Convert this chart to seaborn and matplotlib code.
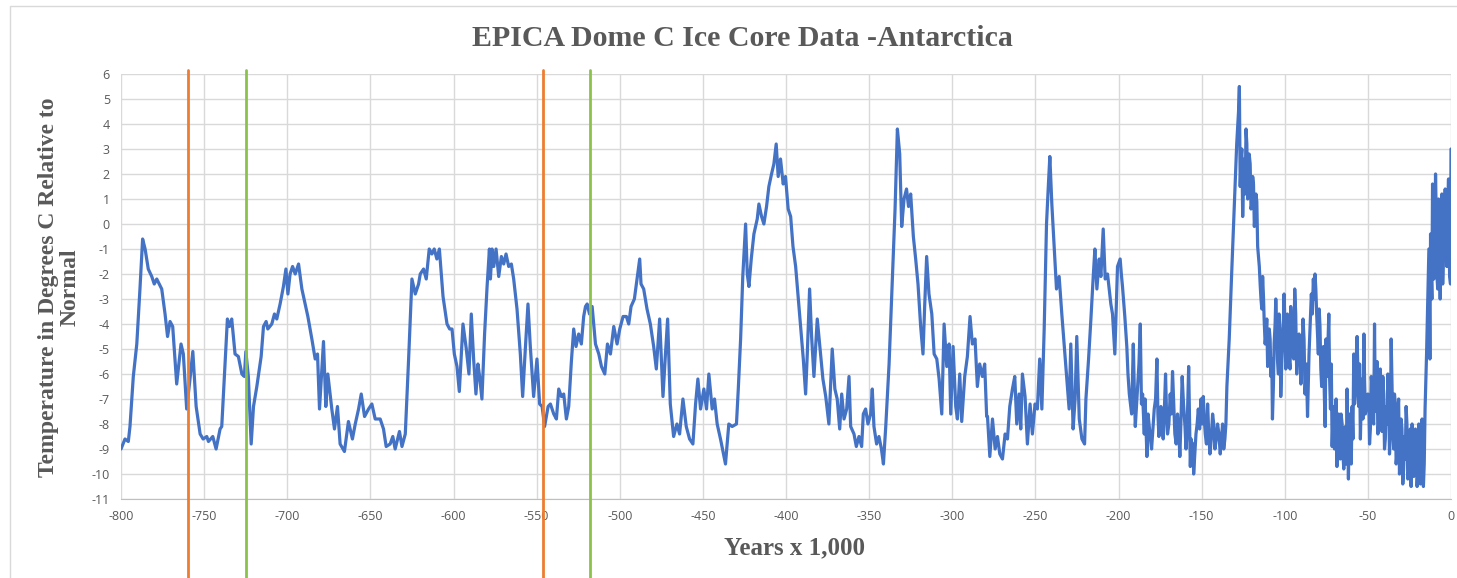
import numpy as np
import pandas as pd
import seaborn as sns
import matplotlib.pyplot as plt
from matplotlib.patches import Rectangle

# ============================
#  data
# ============================

years = [
    -800, -797.6, -795.6, -794.6, -792.6, -790.5, -788.6, -787, -785.5, -783.6,
    -781.5, -780, -778.5, -775.5, -773.5, -772, -770.5, -768.9, -766.5, -763.9,
    -762.5, -760.5, -758.5, -756.8, -754.8, -752.4, -750.6, -748.4, -747.4, -744.8,
    -742.8, -740.4, -739.4, -737.4, -736, -734.8, -733.4, -731.4, -729.4,
    -727.3, -725.8, -724.9, -723.4, -721.7, -720.3, -718.3, -715.7, -714.3, -712.7,
    -711.7, -709.3, -707.7, -706.3, -704.3, -702.3, -700.8, -699.6, -698.3, -696.8,
    -695.2, -693.2, -691.2, -689.2, -687.6, -685.2, -683.2, -681.8, -680.6, -678.2,
    -676.8, -675.6, -673.2, -671.6, -669.8, -668.2, -665.6, -663.2, -660.8, -659.1,
    -657.1, -655.5, -653.5,
    -651.1, -649.1, -647.1, -644.1, -642.1, -640.5, -638.1, -636.5, -635.1, -632.5,
    -631, -629, -627, -625, -623, -621, -620, -618, -616.4, -614.6,
    -613, -611.6, -610, -608.5, -606.3, -603.9, -602.3, -600.9, -599.5, -597.9,
    -596.5, -594.3, -592.3, -590.7, -589.3, -587.9, -586.5, -585.3, -584.3, -582.9,
    -581.3, -579.8, -578.4,
    -577.8, -576.8, -575.8, -574.4, -572.8, -571.2, -569.8, -568.4, -566.8, -565.2,
    -563.8, -561.8, -559.8, -558.4, -556.8, -555.2, -553.8, -551.8, -549.8, -548.2,
    -546.7, -545.2, -543.1, -541.7, -539.7, -538.1, -536.7, -535.1, -533.7, -532.1,
    -530.7, -529.1, -527.7, -526.3, -524.7, -523.1, -521.7, -520.6, -519.6, -518.2,
    -516.6, -514.6, -512.6, -511, -509, -507.4, -505.6, -503.6,
    -501.6, -500, -498, -496, -494.6, -493.2, -491.2, -489.6, -488, -487.2,
    -485.6, -483.6, -481.6, -479.6, -478, -476, -474, -472.6, -471.2, -469.6,
    -467.6, -465.6, -464, -462, -460, -458, -456, -454.4, -453, -451.4,
    -449.4, -447.8, -446.4, -444.4, -443, -441.4, -439.4, -436.4, -434.4, -432.4,
    -429.8,
    -428.7, -427.3, -426, -424.3, -423.3, -422.3, -420.9, -419.3, -417.3, -416.3,
    -414.7, -413.3, -411.7, -410.3, -408.7, -407.3, -405.9, -404.7, -403.3, -401.7,
    -400.3, -398.7, -397.2, -395.8, -394.2, -392.2, -390.6, -389.6, -388.2, -387.2,
    -385.8, -384.6, -383.2, -381.2, -379.2, -377.8, -376.1, -374.2, -372.2, -370.6,
    -369.2, -367.7, -366.5, -365.1, -363.5, -362.1, -361.1, -359.1, -357.7, -356.1,
    -354.5,
    -353.5, -352.1, -350.7, -349.1, -348.1, -347.1, -345.5, -344.1, -342.6, -341.4,
    -340, -338, -336, -334.4, -333, -331.6, -330.4, -329, -327.5, -326.3,
    -325, -323.4, -322, -320.6, -319, -317.6, -316.6, -315.4, -314, -312.3,
    -310.9, -309.3, -307.9, -306.3, -304.9, -303.3, -301.9, -300.9, -299.5, -297.9,
    -296.9, -295.5, -294.3, -292.5, -290.9, -289.3, -287.9, -286.3, -284.9, -283.5,
    -281.9, -280.5, -279.3,
    -278.8, -277.4, -275.8, -274.2, -272.8, -271.4, -269.8, -268.2, -266.8, -265.4,
    -263.8, -262.4, -261.2, -259.8, -258.8, -257.8, -256.2, -254.8, -253.2, -251.8,
    -250.2, -248.8, -247.4, -246.1, -244.7, -243.3, -242.3, -241.3, -240.1, -238.7,
    -237.3, -235.7, -234.1, -232.7, -231.3, -229.7, -228.7, -227.3, -226.1, -225.1,
    -223.6, -222, -220.4, -219.6, -218, -216.6, -215.2, -214.2, -213, -211.6,
    -210.6, -209.2, -208, -206.6, -204.6,
    -203.6, -202.2, -200.6, -199, -197.6, -196.2, -195, -193.5, -192.1, -191.1,
    -189.9, -188.5, -186.9, -185.5, -184.5, -182.9, -181.5, -180.1, -178.5, -176.9,
    -175.7, -174.5, -173.1, -171.7, -170.5, -168.9, -167.5, -166.1, -164.5, -163.1,
    -161.7, -160, -158.8, -157.8, -156.8, -155.4, -154.8, -153.4, -152, -150.4,
    -149, -147.8, -146.4, -145, -143.4, -142, -140.4, -138.8, -137.4, -136,
    -134.8, -133.4, -132, -130.4,
    -128.9, -128.3, -127.3, -126.3, -125.3, -124.3, -123.3, -122.3, -121.4, -120.3,
    -119.3, -118.3, -117.3, -116.3, -115.3, -114.3, -113.3, -112.4, -111.4, -110.3,
    -109.3, -108.3, -107.4, -106.4, -105.4, -104.4, -103.4, -102.4, -101.4, -100.4,
    -99.4, -98.4, -97.4, -96.4, -95.4, -94, -92.8, -91.4, -90.3, -89,
    -87.8, -86.3, -85.4, -84, -82.8, -81.8, -80.8, -79.8, -78.8, -77.8,
    -76.7, -75.7, -74.7, -73.5, -72.5, -71.5, -70.6, -69.6, -68.6, -67.6,
    -66.6, -65.5, -64.5, -63.5, -62.5, -61.7, -60.5, -59.5, -58.5, -57.5,
    -56.5, -55.5, -54.5, -53.4, -52.4, -51.5,
    -50, -49, -48, -47, -46, -45, -44, -43, -42, -41,
    -40, -39, -38, -37, -36, -35, -34, -33, -32, -31,
    -30, -29, -28, -27, -26, -25, -24, -23.4, -22.4, -21.4,
    -20.4, -19.4, -18.4, -17.4, -16.6, -15.6, -14.7, -13.9, -13.3, -12.7,
    -11.9, -11.1, -10.3, -9.3, -8.5, -7.5, -6.5, -5.5, -4.5, -3.5,
    -2.5, -1.5, -0.8, -0.3, 0,
]

temperature = [
    -9.0, -8.6, -8.7, -8.1, -6.1, -4.8, -2.6, -0.6, -1.0, -1.8,
    -2.1, -2.4, -2.2, -2.6, -3.6, -4.5, -3.9, -4.1, -6.4, -4.8,
    -5.2, -7.4, -6.2, -5.1, -7.3, -8.4, -8.6, -8.5, -8.7, -8.5,
    -9.0, -8.2, -8.1, -5.6, -3.8, -4.1, -3.8, -5.2, -5.3,
    -6.0, -6.1, -5.1, -6.1, -8.8, -7.3, -6.5, -5.3, -4.1, -3.9,
    -4.2, -4.0, -3.6, -3.8, -3.2, -2.5, -1.8, -2.8, -2.0, -1.7,
    -2.0, -1.6, -2.6, -3.2, -3.7, -4.6, -5.4, -5.2, -7.4, -4.7,
    -7.3, -6.0, -7.4, -8.2, -7.3, -8.8, -9.1, -7.9, -8.6, -8.0,
    -7.4, -6.8, -7.7,
    -7.4, -7.2, -7.8, -7.8, -8.2, -8.9, -8.8, -8.5, -9.0, -8.3,
    -8.9, -8.4, -5.4, -2.2, -2.8, -2.4, -2.0, -1.8, -2.2, -1.0,
    -1.2, -1.0, -1.4, -1.0, -2.9, -4.0, -4.2, -4.2, -5.2, -5.7,
    -6.7, -4.0, -5.0, -6.0, -3.6, -5.4, -6.8, -5.6, -6.1, -7.0,
    -4.4, -2.5, -1.0,
    -2.2, -1.0, -1.7, -1.0, -2.1, -1.3, -1.6, -1.2, -1.7, -1.6,
    -2.2, -3.4, -5.2, -6.9, -5.0, -3.2, -4.9, -6.9, -5.4, -7.2,
    -7.3, -8.1, -7.3, -7.2, -7.6, -7.8, -6.6, -6.9, -6.8, -7.8,
    -7.3, -5.5, -4.2, -4.9, -4.4, -4.8, -3.7, -3.3, -3.2, -3.6,
    -3.3, -4.8, -5.2, -5.7, -6.0, -4.8, -5.2, -4.1,
    -4.8, -4.2, -3.7, -3.7, -4.0, -3.3, -3.0, -2.2, -1.4, -2.4,
    -2.6, -3.4, -4.0, -4.9, -5.8, -3.8, -6.9, -5.3, -3.8, -7.2,
    -8.5, -8.0, -8.4, -7.0, -8.1, -8.6, -8.8, -7.2, -6.2, -7.4,
    -6.6, -7.4, -6.0, -7.4, -7.0, -8.0, -8.6, -9.6, -8.0, -8.1,
    -8.0,
    -6.6, -4.6, -2.1, 0.0, -2.0, -2.5, -1.4, -0.4, 0.2, 0.8,
    0.3, 0.0, 0.7, 1.5, 2.0, 2.4, 3.2, 1.9, 2.6, 1.6,
    1.9, 0.6, 0.3, -0.9, -1.7, -3.3, -4.6, -5.4, -6.8, -5.2,
    -2.6, -4.5, -6.1, -3.8, -5.2, -6.2, -6.9, -8.0, -5.0, -6.6,
    -7.0, -8.2, -6.8, -7.8, -7.4, -6.1, -8.1, -8.4, -8.9, -8.5,
    -8.9,
    -7.6, -7.4, -8.0, -7.6, -6.6, -8.1, -8.8, -8.5, -9.0, -9.6,
    -8.1, -5.6, -2.2, 0.6, 3.8, 2.8, -0.1, 1.0, 1.4, 0.7,
    1.2, -0.5, -1.4, -2.4, -4.1, -5.2, -3.3, -1.3, -2.8, -3.6,
    -5.2, -5.4, -6.2, -7.6, -4.0, -5.7, -4.8, -7.6, -4.9, -7.3,
    -7.8, -6.0, -7.9, -6.1, -5.3, -3.7, -4.8, -4.6, -6.5, -5.6,
    -6.1, -5.6, -7.7,
    -7.7, -9.3, -7.8, -9.0, -8.5, -9.2, -9.4, -8.4, -8.6, -7.3,
    -6.6, -6.1, -8.0, -6.8, -8.2, -6.0, -6.9, -8.8, -7.2, -8.4,
    -7.2, -7.4, -5.4, -7.4, -4.2, 0.0, 1.4, 2.7, 0.8, -0.9,
    -2.6, -2.1, -3.6, -4.8, -6.0, -7.4, -4.8, -8.2, -7.0, -4.5,
    -7.8, -8.6, -8.8, -7.0, -5.4, -3.8, -2.1, -1.0, -2.6, -1.4,
    -2.1, -0.2, -2.2, -2.0, -3.2,
    -3.6, -5.2, -1.7, -1.4, -2.5, -3.7, -4.9, -6.8, -7.6, -4.8,
    -8.1, -6.5, -4.0, -6.8, -8.4, -9.3, -8.1, -9.0, -7.4, -5.4,
    -8.5, -7.3, -8.6, -6.0, -8.4, -6.8, -5.9, -8.4, -7.6, -9.3,
    -6.1, -8.1, -8.4, -5.7, -9.7, -9.0, -10.0, -8.4, -7.4, -7.0,
    -6.9, -8.4, -7.2, -9.2, -7.6, -9.0, -8.0, -9.2, -8.0, -8.6,
    -6.5, -4.6, -2.1, 0.6,
    3.2, 3.9, 5.5, 2.6, 0.3, 2.6, 3.8, 1.0, 2.8, 0.6,
    1.9, -0.1, 1.2, -0.9, -1.7, -3.0, -2.1, -3.8, -4.5, -5.7,
    -4.2, -6.1, -7.8, -4.8, -3.0, -5.4, -3.6, -6.9, -4.9, -2.8,
    -5.8, -3.6, -5.4, -3.3, -5.2, -2.6, -6.0, -4.4, -6.4, -3.8,
    -6.8, -7.7, -5.2, -2.8, -2.2, -2.0, -3.6, -5.2, -4.1, -6.5,
    -4.9, -8.1, -6.1, -3.6, -7.4, -8.9, -7.3, -8.4, -9.7, -7.6,
    -9.4, -8.0, -9.8, -8.1, -6.6, -10.2, -8.1, -7.3, -5.2, -6.8,
    -4.5, -7.3, -8.6, -6.2, -4.4, -7.6,
    -6.8, -8.8, -6.1, -7.8, -4.0, -6.2, -8.4, -6.5, -7.6, -6.1,
    -9.0, -7.3, -6.0, -9.2, -4.6, -8.1, -6.8, -9.6, -7.6, -10.0,
    -7.8, -10.4, -8.5, -7.3, -10.2, -8.8, -10.5, -8.0, -10.1, -8.2,
    -10.5, -8.0, -10.4, -7.8, -10.5, -7.4, -5.2, -2.8, -1.0, -5.4,
    -2.0, 1.6, -2.2, 2.0, -2.0, 1.0, -3.0, 1.2, -1.2, 1.4,
    -1.7, 1.8, -2.1, -2.4, 3.0,
]

# extra points inside the dense, noisy stretches (last two glacial cycles)
dense_years = [
    -198.3, -194.3, -190.5, -187.7, -186.2, -184, -182.2, -180.8, -179.3, -177.7,
    -176.3, -174, -172.4, -171.1, -169.7, -168.2, -166.8, -165.3, -163.8, -162.4,
    -160.9, -159.4, -156.3, -155.1, -154.1, -152.7, -151.2, -149.7, -148.4, -147.1,
    -145.7, -144.2, -142.7, -141.2, -139.6, -138.1, -136.7, -135.4,
    -127.8, -126.8, -125.8, -124.8, -123.8, -122.8, -121.8, -120.8, -119.8, -118.8,
    -117.8, -116.8,
    -114.8, -113.8, -112.8, -111.8, -110.8, -109.8, -108.8, -107.8, -106.8, -105.8,
    -104.8, -103.8, -102.8, -101.8, -100.8, -99.8, -98.8, -97.8, -96.8, -95.8,
    -94.6, -93.4, -92.1, -90.8, -89.6, -88.4, -87, -84.7, -83.4, -82.3,
    -81.3, -80.3, -79.3, -78.3, -77.3, -76.2, -75.2, -74.1, -73, -72,
    -71, -70.1, -69.1, -68.1, -67.1, -66.1, -65, -64, -63, -62,
    -61.1, -60, -59, -58, -57, -56, -55, -54, -53, -52,
    -49.5, -48.5, -47.5, -46.5, -45.5, -44.5, -43.5, -42.5, -41.5, -40.5,
    -39.5, -38.5, -37.5, -36.5, -35.5, -34.5, -33.5, -32.5, -31.5, -30.5,
    -29.5, -28.5, -27.5, -26.5, -25.5, -24.5,
    -23.7, -22.9, -21.9, -20.9, -19.9, -18.9, -17.9, -17, -16.1,
    -12.3, -11.5, -10.7, -9.8, -8.9, -8, -7, -6, -5, -4,
    -3, -2, -1.2,
]

dense_temp = [
    -2.0, -6.0, -6.6, -5.6, -7.2, -7.0, -7.6, -8.6, -8.2, -7.0,
    -7.6, -8.0, -7.4, -7.6, -8.0, -7.6, -7.2, -8.8, -8.2, -7.8,
    -7.2, -9.0, -8.6, -8.8, -9.2, -8.0, -8.2, -8.0, -7.8, -8.8,
    -8.4, -8.6, -8.0, -8.6, -8.4, -8.6, -9.0, -8.0,
    4.5, 1.5, 3.0, 1.8, 1.2, 3.2, 1.6, 2.4, 0.8, 1.6,
    0.4, 0.9,
    -2.4, -3.4, -2.9, -4.8, -3.8, -5.4, -4.6, -5.4, -6.4, -4.0,
    -4.2, -6.0, -4.4, -5.6, -3.8, -4.3, -5.6, -4.2, -5.8, -4.2,
    -5.4, -3.6, -5.0, -4.8, -5.2, -4.6, -5.6, -4.0, -3.6, -3.0,
    -2.6, -4.4, -3.4, -5.8, -5.4, -6.8, -4.6, -5.0, -6.2, -5.6,
    -7.8, -9.0, -7.0, -8.6, -8.8, -7.6, -9.2, -8.8, -9.6, -8.8,
    -7.6, -9.6, -8.6, -7.2, -5.4, -6.0, -5.6, -7.0, -7.8, -6.2,
    -7.0, -8.2, -6.5, -8.0, -7.5, -5.5, -8.0, -5.8, -8.3, -6.8,
    -8.6, -8.0, -6.6, -8.4, -6.4, -9.0, -7.2, -9.2, -7.0, -9.4,
    -8.2, -9.8, -9.4, -8.0, -9.9, -8.2,
    -9.2, -8.6, -9.6, -8.8, -9.8, -8.6, -9.6, -9.0, -9.6,
    -0.4, -3.0, 0.6, -0.8, 0.4, -2.6, -0.6, 0.2, -2.4, 0.2,
    -0.4, 0.6, -1.0,
]

marker_orange = [-760, -546]
marker_green = [-725, -518]

x_ticks = list(range(-800, 1, 50))
y_ticks = list(range(-11, 7))

title = 'EPICA Dome C Ice Core Data -Antarctica'
x_label = 'Years x 1,000'
y_label = 'Temperature in Degrees C Relative to\nNormal'

# ============================
#  figure
# ============================

sns.set_style('white')
plt.rcParams['font.family'] = ['Open Sans', 'DejaVu Sans']
plt.rcParams['axes.unicode_minus'] = False

W, H = 1457, 578
fig = plt.figure(figsize=(W / 100, H / 100), dpi=100)
ax = fig.add_axes([121 / W, 1 - 499 / H, (1451 - 121) / W, (499 - 74) / H])

df = pd.DataFrame({'Years': years + dense_years, 'Temp': temperature + dense_temp})
df = df.sort_values('Years').reset_index(drop=True)
sns.lineplot(data=df, x='Years', y='Temp', ax=ax, color='#4472C4',
             linewidth=2.3, estimator=None, sort=False, zorder=3)

for x in marker_orange:
    ax.axvline(x, ymin=-0.19, ymax=1.01, color='#ED7D31', lw=2, clip_on=False, zorder=4)
for x in marker_green:
    ax.axvline(x, ymin=-0.19, ymax=1.01, color='#8BC34A', lw=2, clip_on=False, zorder=4)

ax.set_xlim(-800, 0)
ax.set_ylim(-11, 6)
ax.set_xticks(x_ticks)
ax.set_yticks(y_ticks)
ax.grid(True, color='#D9D9D9', lw=1)
ax.set_axisbelow(True)
for side in ['top', 'right', 'left']:
    ax.spines[side].set_visible(False)
ax.spines['bottom'].set_color('#BFBFBF')
ax.tick_params(length=0, labelsize=9, labelcolor='#595959', pad=8)
ax.set_xlabel('')
ax.set_ylabel('')

serif = ['Liberation Serif', 'DejaVu Serif']
fig.text(742 / W, 1 - 38 / H, title, ha='center', va='center',
         family=serif, weight='bold', fontsize=21.5, color='#595959')
fig.text(794 / W, 1 - 548 / H, x_label, ha='center', va='center',
         family=serif, weight='bold', fontsize=18, color='#595959')
fig.text(59 / W, 1 - 287 / H, y_label, ha='center', va='center', rotation=90,
         multialignment='center', family=serif, weight='bold', fontsize=17,
         color='#595959', linespacing=1.05)

fig.patches.append(Rectangle((10 / W, -0.01), 1.0, 1 - 6 / H + 0.01,
                             transform=fig.transFigure, fill=False,
                             edgecolor='#D9D9D9', lw=1))

fig.savefig('out.png', dpi=100)
